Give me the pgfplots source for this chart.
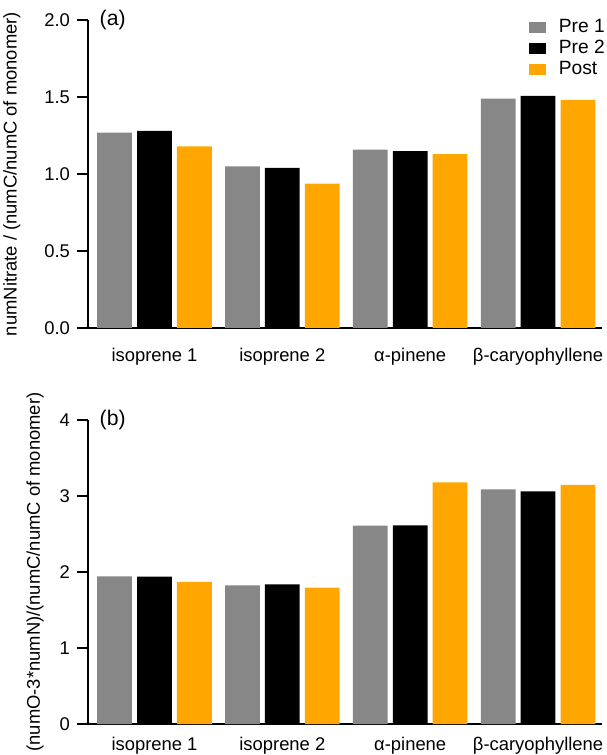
\documentclass[border=0pt]{standalone}
\usepackage{fontspec}
\setmainfont{Liberation Sans}
\usepackage{pgfplots}
\pgfplotsset{compat=1.18}
\definecolor{cgray}{RGB}{135,135,135}
\definecolor{corange}{RGB}{255,166,0}
\newcommand{\fs}{\fontsize{9.2}{11}\selectfont}
\newcommand{\fl}{\fontsize{9.6}{11}\selectfont}
\newcommand{\fp}{\fontsize{10.6}{12}\selectfont}
\pgfplotsset{
  mybase/.style={
    scale only axis, width=257pt,
    xmin=-0.52, xmax=3.5,
    axis x line*=bottom, axis y line*=left,
    axis line style={line width=0.9pt, -},
    xtick={0,1,2,3},
    xticklabels={isoprene 1, isoprene 2, α-pinene, β-caryophyllene},
    xtick style={draw=none},
    xticklabel style={yshift=-1.2pt},
    ytick style={line width=0.9pt, black},
    major tick length=5.5pt,
    tick align=outside,
    tick label style={font=\fs},
    /pgf/number format/assume math mode=true,
    label style={font=\fs},
  }
}
\begin{document}
\begin{tikzpicture}
\useasboundingbox (0pt,0pt) rectangle (303pt,-377.5pt);
% panel (a)
\begin{axis}[mybase,
  at={(44pt,-10pt)}, anchor=north west,
  height=154pt,
  ymin=0, ymax=2, ytick={0,0.5,1,1.5,2},
  yticklabel style={/pgf/number format/.cd, fixed, fixed zerofill, precision=1},
  ylabel={numNitrate / (numC/numC of monomer)},
  every axis y label/.style={at={(axis description cs:-0.148,0.5)}, rotate=90, anchor=center, font=\fs},
  legend style={draw=none, fill=none, at={(1.008,1.005)}, anchor=north east, font=\fl,
    row sep=1.5pt, inner sep=0pt,
    nodes={inner sep=0.5pt, text height=6.5pt, text depth=1.5pt}},
  legend cell align=left,
  clip=false,
]
\addplot[ybar, bar width=0.272, bar shift=-0.312, fill=cgray, draw=none,
  legend image code/.code={\fill[cgray, draw=none] (0pt,-2.75pt) rectangle (8.5pt,2.75pt); \node[inner sep=0pt, draw=none, fill=none] at (13pt,0pt) {};}]
  coordinates {(0,1.268) (1,1.049) (2,1.158) (3,1.490)};
\addlegendentry{Pre 1}
\addplot[ybar, bar width=0.272, bar shift=0, fill=black, draw=none,
  legend image code/.code={\fill[black, draw=none] (0pt,-2.75pt) rectangle (8.5pt,2.75pt); \node[inner sep=0pt, draw=none, fill=none] at (13pt,0pt) {};}]
  coordinates {(0,1.280) (1,1.040) (2,1.149) (3,1.507)};
\addlegendentry{Pre 2}
\addplot[ybar, bar width=0.272, bar shift=0.312, fill=corange, draw=none,
  legend image code/.code={\fill[corange, draw=none] (0pt,-2.75pt) rectangle (8.5pt,2.75pt); \node[inner sep=0pt, draw=none, fill=none] at (13pt,0pt) {};}]
  coordinates {(0,1.180) (1,0.938) (2,1.129) (3,1.481)};
\addlegendentry{Post}
\node[anchor=west, font=\fp, inner sep=0pt] at (rel axis cs:0.022,1) {(a)};
\end{axis}
% panel (b)
\begin{axis}[mybase,
  at={(44pt,-210pt)}, anchor=north west,
  height=152pt,
  ymin=0, ymax=4, ytick={0,1,2,3,4},
  xticklabel style={yshift=3.6pt},
  ylabel={(numO-3*numN)/(numC/numC of monomer)},
  every axis y label/.style={at={(axis description cs:-0.103,0.5)}, rotate=90, anchor=center, font=\fs},
  clip=false,
]
\addplot[ybar, bar width=0.272, bar shift=-0.312, fill=cgray, draw=none]
  coordinates {(0,1.943) (1,1.825) (2,2.610) (3,3.086)};
\addplot[ybar, bar width=0.272, bar shift=0, fill=black, draw=none]
  coordinates {(0,1.940) (1,1.838) (2,2.615) (3,3.060)};
\addplot[ybar, bar width=0.272, bar shift=0.312, fill=corange, draw=none]
  coordinates {(0,1.870) (1,1.795) (2,3.180) (3,3.146)};
\node[anchor=west, font=\fp, inner sep=0pt] at (rel axis cs:0.022,1) {(b)};
\end{axis}
\end{tikzpicture}
\end{document}
